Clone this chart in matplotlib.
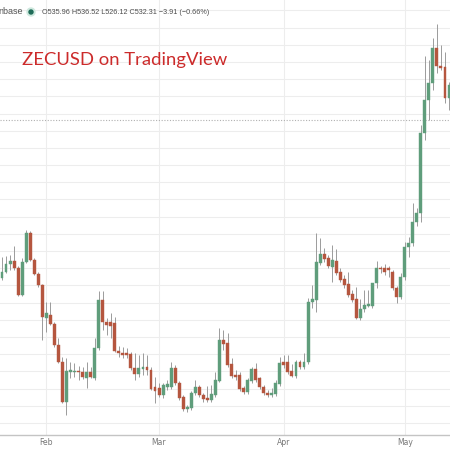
import numpy as np
import pandas as pd
import matplotlib
matplotlib.use("Agg")
import matplotlib.pyplot as plt

# Daily ZECUSD candles (first visible day = Jan 21)
opens = [348.7, 355.7, 365.0, 368.5, 360.3, 328.9, 367.3, 401.0, 369.6, 353.3,
         340.5, 302.2, 305.7, 295.2, 270.8, 251.0, 204.5, 239.4, 239.4, 240.5,
         239.4, 232.4, 239.4, 232.4, 267.3, 323.1, 297.5, 297.5, 296.4, 263.8,
         261.5, 261.5, 260.3, 244.0, 237.0, 242.9, 245.2, 241.7, 221.9, 220.8,
         212.6, 221.9, 221.9, 244.0, 226.6, 210.3, 196.3, 197.5, 214.9, 221.9,
         212.6, 209.1, 206.8, 212.6, 228.9, 276.6, 273.1, 248.7, 235.9, 235.9,
         220.8, 216.1, 228.9, 242.9, 232.4, 221.9, 214.9, 212.6, 213.8, 225.4,
         251.0, 251.0, 240.5, 234.7, 251.0, 245.2, 251.0, 320.8, 323.1, 366.1,
         376.6, 371.9, 361.5, 368.5, 355.7, 347.5, 341.7, 330.1, 324.3, 302.2,
         312.6, 316.1, 316.1, 342.9, 360.3, 360.3, 360.3, 355.7, 337.1, 326.6,
         349.8, 384.7, 389.4, 413.8, 424.3, 517.3, 555.7, 575.5, 616.2, 595.2,
         594.1, 558.0]
highs = [373.1, 374.3, 375.4, 385.9, 362.6, 371.9, 404.5, 403.3, 371.9, 355.7,
         341.7, 320.8, 320.8, 297.5, 278.9, 256.8, 255.6, 251.0, 249.8, 246.3,
         245.2, 251.0, 245.2, 278.9, 333.6, 333.6, 302.2, 308.0, 303.3, 269.6,
         268.4, 267.3, 262.6, 261.5, 259.1, 261.5, 259.1, 245.2, 233.5, 226.6,
         226.6, 230.1, 251.0, 247.5, 228.9, 212.6, 201.0, 217.3, 230.1, 224.2,
         214.9, 223.1, 224.2, 239.4, 290.5, 288.2, 284.7, 255.6, 241.7, 239.4,
         223.1, 232.4, 245.2, 249.8, 233.5, 224.2, 218.4, 220.8, 230.1, 256.8,
         259.1, 259.1, 248.7, 253.3, 253.3, 261.5, 325.4, 340.5, 401.0, 395.2,
         383.6, 375.4, 387.1, 382.4, 360.3, 352.2, 355.7, 334.7, 338.2, 324.3,
         334.7, 334.7, 342.9, 368.5, 362.6, 365.0, 362.6, 358.0, 339.4, 354.5,
         390.6, 396.4, 435.9, 430.1, 526.6, 606.9, 602.2, 627.8, 644.1, 619.7,
         611.5, 576.6]
lows = [346.4, 354.5, 358.0, 358.0, 327.8, 327.8, 366.1, 368.5, 352.2, 338.2,
        276.6, 285.9, 294.0, 268.4, 249.8, 203.3, 189.4, 232.4, 233.5, 230.1,
        231.2, 220.8, 232.4, 230.1, 264.9, 288.2, 282.4, 278.9, 262.6, 256.8,
        255.6, 255.6, 241.7, 230.1, 233.5, 235.9, 235.9, 218.4, 203.3, 210.3,
        209.1, 218.4, 219.6, 224.2, 206.8, 194.0, 192.8, 195.2, 212.6, 210.3,
        204.5, 204.5, 204.5, 210.3, 227.7, 264.9, 245.2, 232.4, 230.1, 217.3,
        213.8, 213.8, 226.6, 227.7, 219.6, 212.6, 210.3, 210.3, 211.5, 223.1,
        244.0, 237.0, 233.5, 232.4, 242.9, 242.9, 248.7, 313.8, 309.1, 363.8,
        367.3, 360.3, 344.0, 352.2, 344.0, 337.1, 326.6, 320.8, 301.0, 299.8,
        309.1, 315.0, 313.8, 337.1, 354.5, 352.2, 349.8, 334.7, 319.6, 324.3,
        346.4, 373.1, 385.9, 409.2, 413.8, 509.2, 532.4, 567.3, 587.1, 590.6,
        552.2, 544.1]
closes = [355.7, 365.0, 368.5, 360.3, 328.9, 367.3, 401.0, 369.6, 353.3, 340.5,
          303.3, 308.0, 295.2, 270.8, 251.0, 204.5, 240.5, 241.7, 240.5, 239.4,
          233.5, 239.4, 233.5, 267.3, 323.1, 297.5, 294.0, 292.9, 263.8, 261.5,
          259.1, 259.1, 244.0, 237.0, 244.0, 245.2, 241.7, 219.6, 217.3, 212.6,
          224.2, 225.4, 244.0, 226.6, 209.1, 196.3, 198.7, 214.9, 221.9, 212.6,
          208.0, 206.8, 213.8, 230.1, 276.6, 271.9, 247.5, 234.7, 233.5, 219.6,
          216.1, 230.1, 242.9, 230.1, 221.9, 214.9, 212.6, 214.9, 226.6, 249.8,
          247.5, 239.4, 234.7, 251.0, 245.2, 251.0, 320.8, 324.3, 367.3, 376.6,
          370.8, 362.6, 369.6, 354.5, 346.4, 340.5, 328.9, 323.1, 302.2, 312.6,
          317.3, 318.4, 342.9, 360.3, 359.2, 355.7, 358.0, 337.1, 326.6, 349.8,
          384.7, 389.4, 413.8, 424.3, 517.3, 555.7, 575.5, 616.2, 595.2, 592.9,
          558.0, 573.1]

months = ["Feb", "Mar", "Apr", "May"]
last_close = 532.31
header = "O535.96 H536.52 L526.12 C532.31 \u22123.91 (\u22120.66%)"

UP = "#5f9d7b"
DOWN = "#b5563f"
WICK = "#9b9b9b"
GRID = "#ededed"

dates = pd.date_range("2021-01-21", periods=len(opens), freq="D")
o = np.array(opens)
h = np.array(highs)
l = np.array(lows)
c = np.array(closes)
idx = np.arange(len(o))
up = c >= o

fig = plt.figure(figsize=(4.5, 4.5), dpi=100)
ax = fig.add_axes([0, 15 / 450, 1, 435 / 450])

# grid
ax.set_yticks(np.arange(180, 680, 20))
month_pos = [i for i, d in enumerate(dates) if d.day == 1]
ax.set_xticks(month_pos)
ax.set_xticklabels(months)
ax.grid(True, color=GRID, linewidth=0.8)
ax.set_axisbelow(True)

# current price line
ax.axhline(last_close, color="#b0b0b0", linewidth=0.8, linestyle=(0, (1, 1.5)), zorder=1)

# candles
ax.vlines(idx, l, h, color=WICK, linewidth=0.7, zorder=2)
body_lo = np.minimum(o, c)
body_h = np.maximum(np.abs(c - o), 1.0)
colors = np.where(up, UP, DOWN)
ax.bar(idx, body_h, bottom=body_lo, width=0.72, color=colors, edgecolor=colors,
       linewidth=0.3, zorder=3)

ax.set_xlim(-0.5, 111.25)
ax.set_ylim(166.1, 672)

for s in ["top", "left", "right"]:
    ax.spines[s].set_visible(False)
ax.spines["bottom"].set_color("#c4c4c4")
ax.spines["bottom"].set_linewidth(1.0)
ax.tick_params(axis="y", left=False, labelleft=False)
ax.tick_params(axis="x", length=0, pad=2.5, labelsize=5.5, labelcolor="#777777")

# header row
fig.text(-0.003, 1 - 12 / 450, "nbase", fontsize=6.5, color="#555555",
         family="Liberation Sans", va="center", ha="left")
fig.patches.append(plt.Circle((31 / 450, 1 - 12 / 450), 4 / 450, color="#cfe9df",
                              transform=fig.transFigure, figure=fig))
fig.patches.append(plt.Circle((31 / 450, 1 - 12 / 450), 2 / 450, color="#1e6b57",
                              transform=fig.transFigure, figure=fig))
fig.text(42 / 450, 1 - 12 / 450, header, fontsize=5.2, color="#4d4d4d",
         family="Liberation Sans", va="center", ha="left")

fig.text(22 / 450, 1 - 60 / 450, "ZECUSD on TradingView", fontsize=13.3,
         color="#cc2b2b", family="Lato", va="center", ha="left")

fig.savefig("out.png", dpi=100, facecolor="white")
